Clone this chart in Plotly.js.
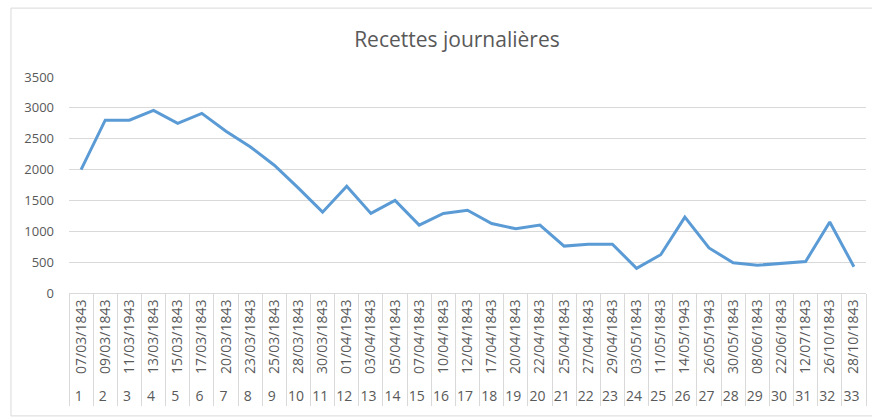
<!DOCTYPE html>
<html>
<head>
<meta charset="utf-8">
<script src="https://cdn.plot.ly/plotly-3.0.1.min.js"></script>
<style>
html,body{margin:0;padding:0;background:#fff;}
#chart{width:872px;height:419px;}
</style>
</head>
<body>
<div id="chart"></div>
<script>
const numbers = ["1","2","3","4","5","6","7","8","9","10","11","12","13","14","15","16","17","18","19","20","21","22","23","24","25","26","27","28","29","30","31","32","33"];
const dates = ["07/03/1843","09/03/1843","11/03/1943","13/03/1843","15/03/1843","17/03/1843","20/03/1843","23/03/1843","25/03/1843","28/03/1843","30/03/1843","01/04/1943","03/04/1843","05/04/1843","07/04/1843","10/04/1843","12/04/1843","17/04/1843","20/04/1843","22/04/1843","25/04/1843","27/04/1843","29/04/1843","03/05/1843","11/05/1843","14/05/1943","26/05/1943","30/05/1843","08/06/1843","22/06/1843","12/07/1843","26/10/1843","28/10/1843"];
const recettes = [2000,2800,2800,2960,2750,2910,2620,2370,2070,1700,1310,1730,1290,1500,1100,1290,1340,1125,1040,1100,760,790,790,400,620,1230,730,490,450,480,510,1150,425];
const yTicks = [0,500,1000,1500,2000,2500,3000,3500];

const trace = {
  type: 'scatter',
  mode: 'lines',
  x: [numbers, dates],
  y: recettes,
  line: {color: '#5b9bd5', width: 3},
  hoverinfo: 'skip'
};

const layout = {
  width: 872, height: 419,
  margin: {l: 69, r: 6, t: 77, b: 126},
  paper_bgcolor: '#ffffff',
  plot_bgcolor: '#ffffff',
  showlegend: false,
  font: {family: 'Open Sans, sans-serif', color: '#595959'},
  title: {
    text: 'Recettes journalières',
    font: {size: 21, color: '#595959', family: 'Open Sans, sans-serif'},
    xref: 'container', x: 0.524, xanchor: 'center',
    yref: 'container', y: 0.905, yanchor: 'middle'
  },
  xaxis: {
    type: 'multicategory',
    range: [-0.5, numbers.length - 0.5],
    autorange: false,
    tickangle: -90,
    tickfont: {size: 14, color: '#595959'},
    showgrid: false,
    showline: true,
    linecolor: '#d9d9d9',
    linewidth: 1,
    ticks: '',
    showdividers: true,
    dividercolor: '#d9d9d9',
    dividerwidth: 1,
    zeroline: false
  },
  yaxis: {
    range: [0, 3500],
    tickvals: yTicks,
    ticktext: yTicks.map(String),
    tickfont: {size: 13, color: '#595959'},
    showgrid: true,
    gridcolor: '#d9d9d9',
    gridwidth: 1,
    zeroline: false,
    showline: false,
    ticks: '',
    ticklabelstandoff: 14
  },
  shapes: [{
    type: 'rect', xref: 'paper', yref: 'paper', layer: 'below',
    x0: -0.0728, x1: 1.02, y0: -0.569, y1: 1.319,
    line: {color: '#d9d9d9', width: 1}, fillcolor: 'rgba(0,0,0,0)'
  }]
};

Plotly.newPlot('chart', [trace], layout, {displayModeBar: false, staticPlot: true});
</script>
</body>
</html>
